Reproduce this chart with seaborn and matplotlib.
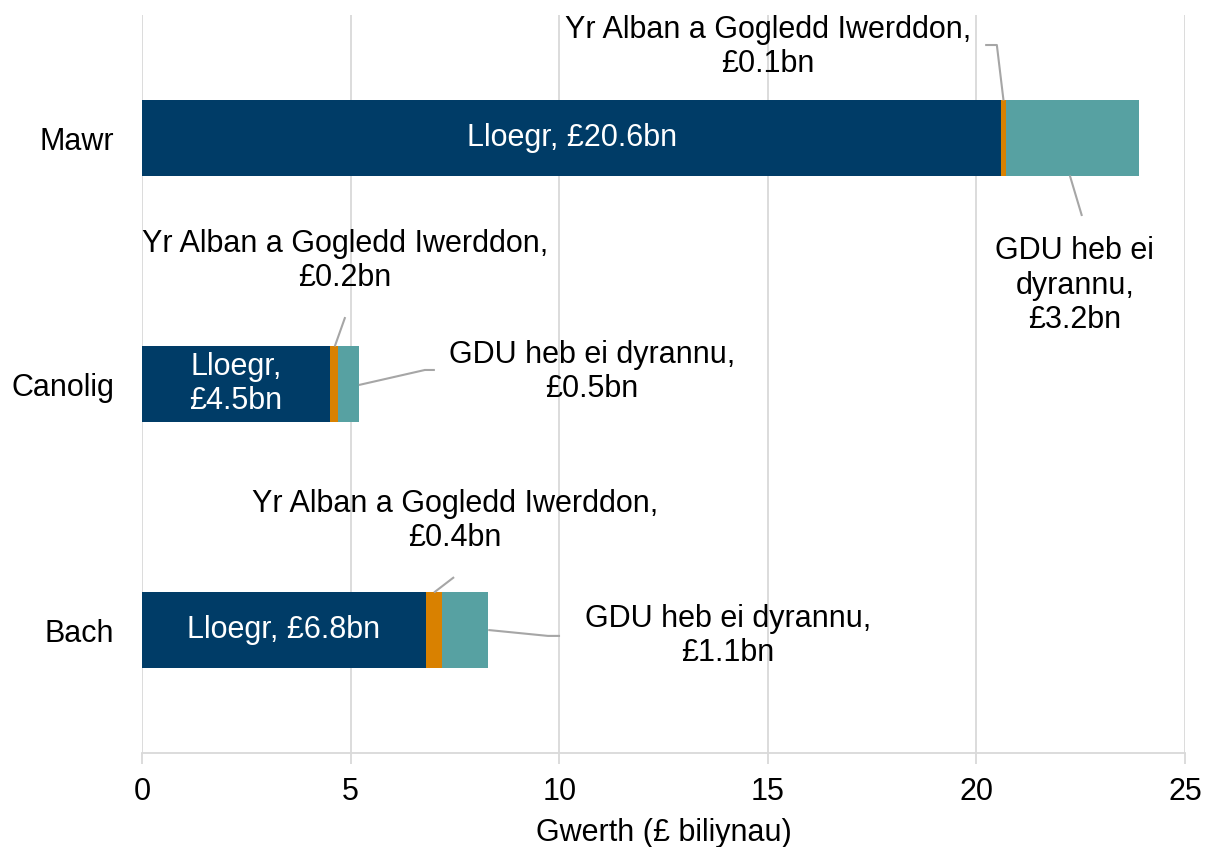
import matplotlib
matplotlib.use("Agg")
import matplotlib.pyplot as plt
import seaborn as sns
import pandas as pd
import numpy as np

categories = ["Mawr", "Canolig", "Bach"]
lloegr = [20.6, 4.5, 6.8]
alban_gi = [0.1, 0.2, 0.4]
gdu = [3.2, 0.5, 1.1]
xticks = [0, 5, 10, 15, 20, 25]
xlabel = "Gwerth (£ biliynau)"

c_navy = "#003C67"
c_orange = "#D98100"
c_teal = "#57A1A2"
c_grid = "#D9D9D9"
c_lead = "#A6A6A6"

sns.set_theme(style="white")
plt.rcParams['font.family'] = ['Liberation Sans', 'DejaVu Sans']

df = pd.DataFrame({"cat": categories, "lloegr": lloegr, "alban": alban_gi, "gdu": gdu})
df["c1"] = df["lloegr"]
df["c2"] = df["lloegr"] + df["alban"]
df["c3"] = df["c2"] + df["gdu"]

fig = plt.figure(figsize=(12.05, 8.47), dpi=100)
ax = fig.add_axes([142/1205, 94/847, (1185-142)/1205, (753-15)/847])

w = 0.305
sns.barplot(data=df, y="cat", x="c3", color=c_teal, orient="h", width=w, ax=ax, saturation=1, edgecolor="none")
sns.barplot(data=df, y="cat", x="c2", color=c_orange, orient="h", width=w, ax=ax, saturation=1, edgecolor="none")
sns.barplot(data=df, y="cat", x="c1", color=c_navy, orient="h", width=w, ax=ax, saturation=1, edgecolor="none")

fs = 22
ax.set_xlim(0, 25)
ax.set_ylim(2.5, -0.5)
ax.set_xticks(xticks)
ax.set_xticklabels([str(t) for t in xticks])
ax.grid(axis="x", color=c_grid, lw=1.3)
ax.set_axisbelow(True)
for s in ["top", "right", "left"]:
    ax.spines[s].set_visible(False)
ax.spines["bottom"].set_color(c_grid)
ax.spines["bottom"].set_linewidth(1.3)
ax.tick_params(axis="x", bottom=True, length=8, width=1.3, color=c_grid, labelsize=fs, pad=9, labelcolor="black")
ax.tick_params(axis="y", left=False, labelsize=fs, pad=14, labelcolor="black")
ax.set_ylabel("")
ax.set_xlabel(xlabel, fontsize=fs, labelpad=8, color="black")

ls = 1.2
# inside labels
inside = ["Lloegr, £%.1fbn" % lloegr[0], "Lloegr,\n£%.1fbn" % lloegr[1], "Lloegr, £%.1fbn" % lloegr[2]]
for i, t in enumerate(inside):
    ax.text(lloegr[i] / 2, i, t, ha="center", va="center", color="white", fontsize=fs, linespacing=ls)

def lab(x, y, t):
    ax.text(x, y, t, ha="center", va="center", color="black", fontsize=fs, linespacing=ls)

def lead(xs, ys):
    ax.plot(xs, ys, color=c_lead, lw=1.5, solid_capstyle="butt")

sa = "Yr Alban a Gogledd Iwerddon,\n£%.1fbn"
# Mawr
lab(15.0, -0.37, sa % alban_gi[0])
lead([20.21, 20.49, lloegr[0] + alban_gi[0] / 2], [-0.378, -0.378, -w / 2])
lab(22.36, 0.60, "GDU heb ei\ndyrannu,\n£%.1fbn" % gdu[0])
lead([22.24, 22.53], [w / 2, 0.317])
# Canolig
lab(4.87, 0.50, sa % alban_gi[1])
lead([4.87, lloegr[1] + alban_gi[1] / 2 + 0.02], [0.728, 1 - w / 2])
lab(10.79, 0.951, "GDU heb ei dyrannu,\n£%.1fbn" % gdu[1])
lead([df["c3"][1], 6.78, 7.02], [1.004, 0.943, 0.943])
# Bach
lab(7.5, 1.557, sa % alban_gi[2])
lead([lloegr[2] + 0.2, 7.48], [2 - w / 2, 1.785])
lab(14.05, 2.024, "GDU heb ei dyrannu,\n£%.1fbn" % gdu[2])
lead([df["c3"][2], 9.73, 10.02], [2.0, 2.024, 2.024])

fig.savefig("out.png", dpi=100)
